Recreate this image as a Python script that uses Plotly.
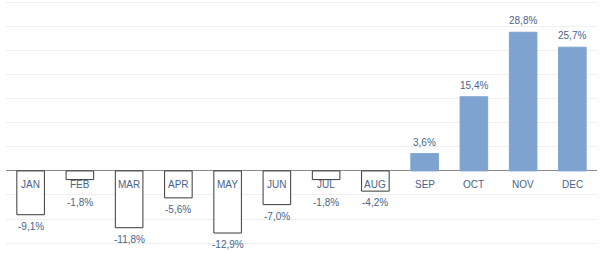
import plotly.graph_objects as go

months = ["JAN", "FEB", "MAR", "APR", "MAY", "JUN", "JUL", "AUG", "SEP", "OCT", "NOV", "DEC"]
values = [-9.1, -1.8, -11.8, -5.6, -12.9, -7.0, -1.8, -4.2, 3.6, 15.4, 28.8, 25.7]

POS_COLOR = "#7fa3d0"
NEG_LINE = "#3a3a3a"
TEXT_COLOR = "#4a6388"
FONT = "Liberation Sans, Arial, sans-serif"

fill = [POS_COLOR if v >= 0 else "white" for v in values]
line = [POS_COLOR if v >= 0 else NEG_LINE for v in values]

fig = go.Figure()
fig.add_trace(go.Bar(
    x=months, y=values,
    marker=dict(color=fill, line=dict(color=line, width=1)),
    hoverinfo="skip",
))

def fmt(v):
    return (f"{v:.1f}".replace(".", ",")) + "%"

annotations = []
for m, v in zip(months, values):
    annotations.append(dict(
        x=m, y=0, xref="x", yref="y", text=m, showarrow=False,
        yanchor="top", yshift=-6,
        font=dict(family=FONT, size=10, color=TEXT_COLOR),
    ))
    if v < 0:
        annotations.append(dict(
            x=m, y=min(v, -4.2), xref="x", yref="y", text=fmt(v), showarrow=False,
            yanchor="top", yshift=-4,
            font=dict(family=FONT, size=10, color=TEXT_COLOR),
        ))
    else:
        annotations.append(dict(
            x=m, y=v, xref="x", yref="y", text=fmt(v), showarrow=False,
            yanchor="bottom", yshift=4,
            font=dict(family=FONT, size=10, color=TEXT_COLOR),
        ))

fig.update_layout(
    width=600, height=253,
    margin=dict(l=6, r=3, t=0, b=0),
    paper_bgcolor="white", plot_bgcolor="white",
    showlegend=False,
    bargap=0.44,
    annotations=annotations,
    xaxis=dict(showticklabels=False, showgrid=False, zeroline=False, showline=False, ticks=""),
    yaxis=dict(range=[-17.05, 35.5], dtick=5, tick0=0, showticklabels=False,
               showgrid=True, gridcolor="#efefef", gridwidth=1,
               zeroline=True, zerolinecolor="#8a8a8a", zerolinewidth=1, ticks=""),
)

fig.write_html("out.html")
